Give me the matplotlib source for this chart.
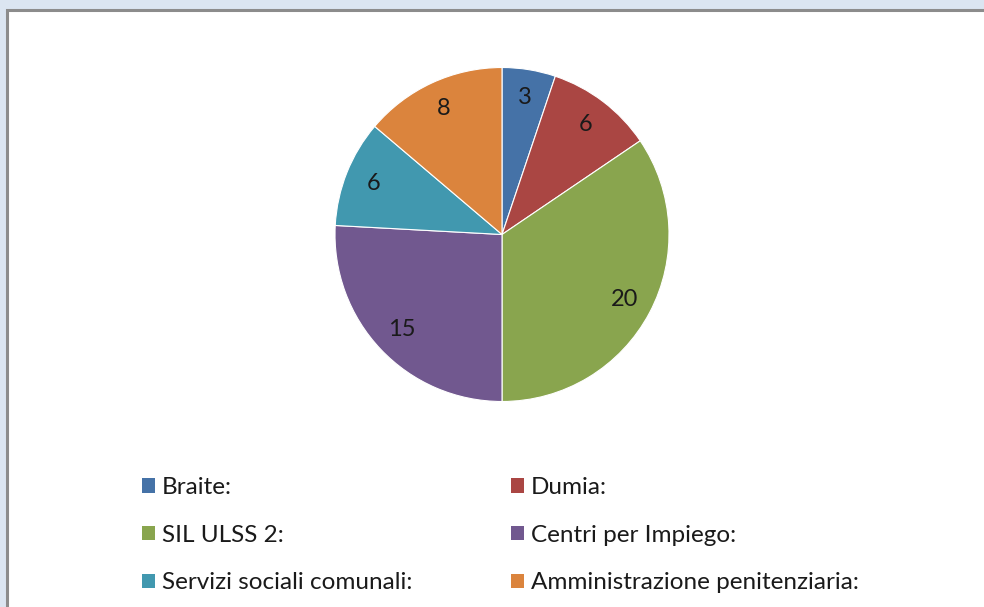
import matplotlib
matplotlib.use("Agg")
import matplotlib.pyplot as plt
from matplotlib.patches import Rectangle, Patch

categories = ["Braite:", "Dumia:", "SIL ULSS 2:", "Centri per Impiego:",
              "Servizi sociali comunali:", "Amministrazione penitenziaria:"]
values = [3, 6, 20, 15, 6, 8]
colors = ["#4572A7", "#AA4643", "#89A54E", "#71588F", "#4198AF", "#DB843D"]

plt.rcParams['font.family'] = ['Lato', 'DejaVu Sans']

W, H = 984, 607
fig = plt.figure(figsize=(W / 100, H / 100), dpi=100)
fig.patch.set_facecolor("#DBE5F1")

# white panel with gray border
fig.patches.append(Rectangle((6.5 / W, -0.05), 1.1, (H - 9.5) / H + 0.05,
                             transform=fig.transFigure, facecolor="white",
                             edgecolor="#8C8C8C", linewidth=2.2, zorder=-5))

cx, cy, r = 502, 234.5, 167
ax = fig.add_axes([(cx - r) / W, (H - cy - r) / H, 2 * r / W, 2 * r / H])
ax.set_zorder(2)
ax.patch.set_alpha(0)
total = sum(values)
wedges, texts, autotexts = ax.pie(
    values, colors=colors, startangle=90, counterclock=False, radius=1,
    autopct=lambda p: f"{round(p * total / 100)}", pctdistance=0.83,
    wedgeprops=dict(edgecolor="white", linewidth=0.8),
    textprops=dict(fontsize=17, color="#1a1a1a"))
ax.set_xlim(-1, 1)
ax.set_ylim(-1, 1)
ax.set_aspect("equal")
ax.axis("off")

# legend (row-major order in 2 columns)
handles = [Patch(facecolor=c, edgecolor="none") for c in colors]
order = [0, 2, 4, 1, 3, 5]
leg = fig.legend([handles[i] for i in order], [categories[i] for i in order],
                 ncol=2, loc="upper left", bbox_to_anchor=(142 / W, 1 - 477 / H),
                 frameon=False, fontsize=17.5, handlelength=0.53, handleheight=0.53,
                 handletextpad=0.3, labelspacing=1.1, columnspacing=4.05,
                 borderpad=0, borderaxespad=0)
leg.set_zorder(3)
for t in leg.get_texts():
    t.set_color("#1a1a1a")

fig.savefig("out.png", dpi=100, facecolor=fig.get_facecolor())
